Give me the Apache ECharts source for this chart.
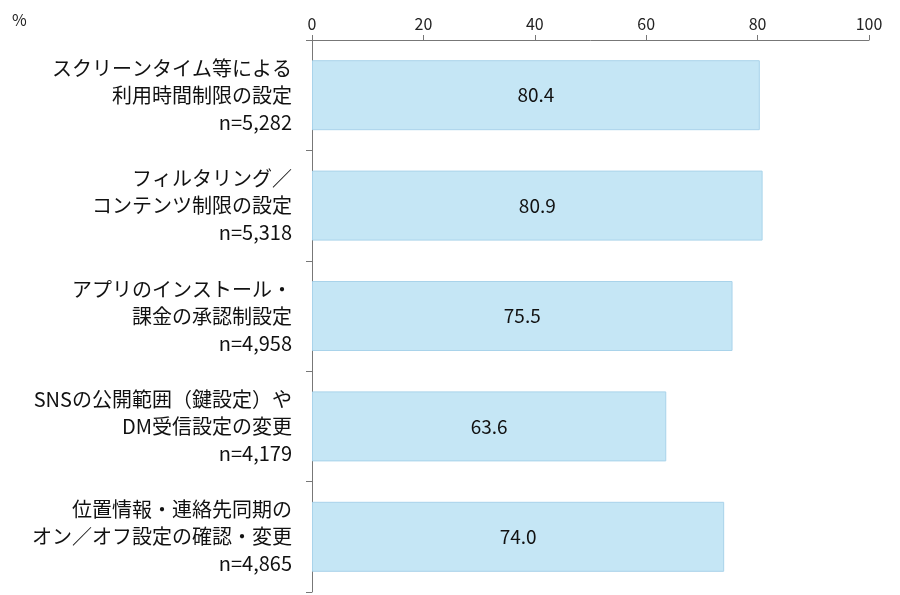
<!DOCTYPE html>
<html><head><meta charset="utf-8">
<script src="https://cdn.jsdelivr.net/npm/echarts@6/dist/echarts.min.js"></script>
<style>html,body{margin:0;padding:0;background:#fff}#c{width:900px;height:595px}</style>
</head><body><div id="c"></div>
<script>
const categories = [
 "スクリーンタイム等による\n利用時間制限の設定\nn=5,282",
 "フィルタリング／\nコンテンツ制限の設定\nn=5,318",
 "アプリのインストール・\n課金の承認制設定\nn=4,958",
 "SNSの公開範囲（鍵設定）や\nDM受信設定の変更\nn=4,179",
 "位置情報・連絡先同期の\nオン／オフ設定の確認・変更\nn=4,865"
];
const values = [80.4, 80.9, 75.5, 63.6, 74.0];
const xTicks = [0,20,40,60,80,100];
const font = "'Noto Sans CJK JP', 'Noto Sans', sans-serif";
const chart = echarts.init(document.getElementById('c'));
chart.setOption({
  animation:false,
  textStyle:{fontFamily:font},
  graphic:[{type:'text',left:12,top:12,style:{text:'%',fontSize:16,fill:'#222',fontFamily:font}}],
  grid:{left:312,right:31,top:40,bottom:3,containLabel:false},
  xAxis:{type:'value',position:'top',min:0,max:100,interval:20,
    axisLine:{show:true,lineStyle:{color:'#777'}},
    axisTick:{show:true,length:5,lineStyle:{color:'#777'}},
    axisLabel:{fontSize:16,color:'#222',margin:8,formatter:v=>xTicks.includes(v)?String(v):''},
    splitLine:{show:false}},
  yAxis:{type:'category',inverse:true,data:categories,
    axisLine:{lineStyle:{color:'#777'}},
    axisTick:{show:true,length:6,lineStyle:{color:'#777'}},
    axisLabel:{fontSize:20,color:'#111',align:'right',margin:20,lineHeight:27}},
  series:[{type:'bar',data:values,barWidth:70,
    itemStyle:{color:'#c5e6f5',borderColor:'#a9d3ea',borderWidth:1},
    label:{show:true,position:'inside',fontSize:19,color:'#111',formatter:p=>p.value.toFixed(1)}}]
});
</script></body></html>
